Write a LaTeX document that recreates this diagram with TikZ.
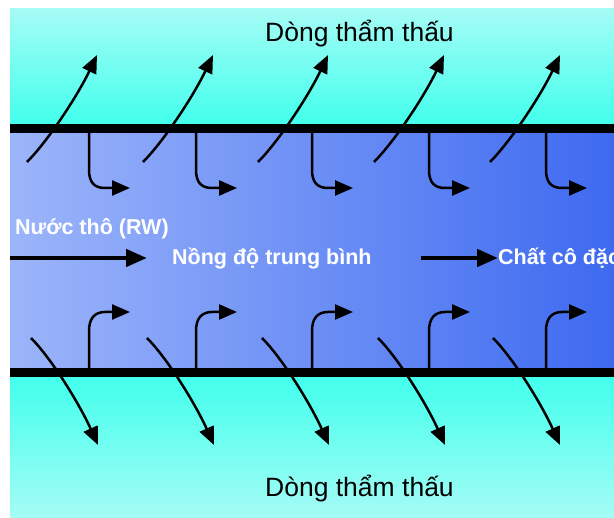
\documentclass[tikz,border=0pt]{standalone}
\usepackage{fontspec}
\setmainfont{Liberation Sans}
\usetikzlibrary{arrows.meta}

\definecolor{cyanpale}{RGB}{165,252,246}
\definecolor{cyandeep}{RGB}{66,255,236}
\definecolor{feedlight}{RGB}{156,181,250}
\definecolor{feeddark}{RGB}{62,106,240}

\tikzset{
  flux/.style={line width=2.5pt, -{Triangle[length=18pt,width=15pt]}},
  flow/.style={line width=4.5pt, -{Triangle[length=21pt,width=17pt]}},
  membrane/.style={fill=black},
  permlabel/.style={anchor=base west, inner sep=0pt, font=\fontsize{26.5}{29}\selectfont},
  streamlabel/.style={anchor=base west, inner sep=0pt, text=white, font=\bfseries\fontsize{21.5}{24}\selectfont},
}

\begin{document}
\begin{tikzpicture}[x=1pt,y=1pt]
  \useasboundingbox (0,0) rectangle (614,-518);
  \fill[white] (0,0) rectangle (614,-518);
  \clip (0,0) rectangle (614,-518);

  % permeate channels above and below, feed channel in between
  \shade[top color=cyanpale, bottom color=cyandeep] (10,-9) rectangle (614,-125);
  \shade[left color=feedlight, right color=feeddark] (10,-132) rectangle (614,-369);
  \shade[top color=cyandeep, bottom color=cyanpale] (10,-376) rectangle (614,-518);

  % membranes
  \fill[membrane] (10,-124) rectangle (614,-133);
  \fill[membrane] (10,-368) rectangle (614,-377);

  % water crossing the upper membrane
  \foreach \sx in {27,143,258,374,490}
    \draw[flux] (\sx,-162) .. controls (\sx+20,-142) and (\sx+50,-97) .. (\sx+70,-55);
  % water crossing the lower membrane
  \foreach \sx in {31,147,262,378,493}
    \draw[flux] (\sx,-338) .. controls (\sx+20,-358) and (\sx+48,-403) .. (\sx+67,-445);

  % solute rejected back into the feed
  \foreach \hx in {89,196,312,429,546} {
    \draw[flux] (\hx,-133) -- (\hx,-170) .. controls (\hx,-183) and (\hx+6,-188) .. (\hx+16,-188) -- (\hx+41,-188);
    \draw[flux] (\hx,-368) -- (\hx,-331) .. controls (\hx,-318) and (\hx+6,-312) .. (\hx+16,-312) -- (\hx+41,-312);
  }

  % labels
  \node[permlabel] (permtop) at (265,-42) {Dòng thẩm thấu};
  \node[permlabel] (permbot) at (265,-497) {Dòng thẩm thấu};
  \node[streamlabel] (raw) at (15,-235) {Nước thô (RW)};
  \node[streamlabel] (mid) at (172,-265) {Nồng độ trung bình};
  \node[streamlabel] (conc) at (498,-265) {Chất cô đặc};

  % feed stream arrows
  \coordinate (inlet) at (10,-258);
  \draw[flow] (inlet) -- (147,-258);
  \coordinate (midout) at (421,-258);
  \draw[flow] (midout) -- (conc.west |- midout);
\end{tikzpicture}
\end{document}
